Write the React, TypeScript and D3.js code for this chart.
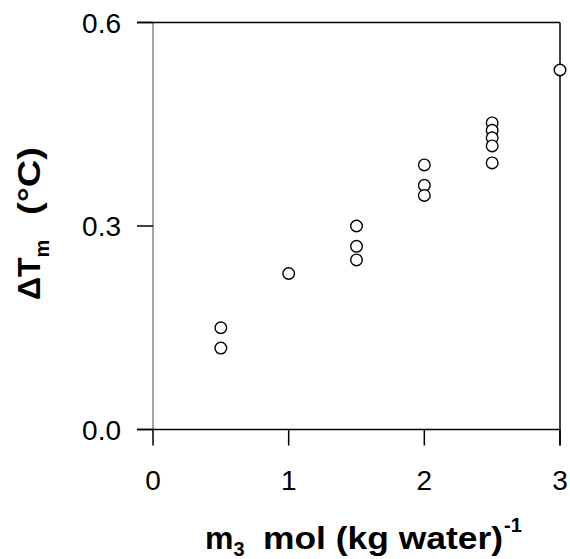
import React from "react";
import * as d3 from "d3";

const xTicks = [0, 1, 2, 3];
const yTicks = [0.0, 0.3, 0.6];
const yTickLabels = ["0.0", "0.3", "0.6"];
const xValues = [0.5, 0.5, 1.0, 1.5, 1.5, 1.5, 2.0, 2.0, 2.0, 2.5, 2.5, 2.5, 2.5, 2.5, 3.0];
const yValues = [0.15, 0.12, 0.23, 0.30, 0.27, 0.25, 0.39, 0.36, 0.345, 0.452, 0.441, 0.43, 0.418, 0.393, 0.53];

const W = 570;
const H = 559;
const left = 153;
const right = 560;
const top = 22.5;
const bottom = 429.5;

export default function App() {
  const x = d3.scaleLinear().domain([0, 3]).range([left, right]);
  const y = d3.scaleLinear().domain([0, 0.6]).range([bottom, top]);
  const font = "'Liberation Sans', Arial, sans-serif";
  const points = xValues.map((v, i) => ({ x: v, y: yValues[i] }));
  return (
    <svg
      width={W}
      height={H}
      style={{ position: "absolute", left: 0, top: 0, background: "#fff" }}
      fontFamily={font}
    >
      <rect x={0} y={0} width={W} height={H} fill="#fff" />
      {/* frame */}
      <line x1={left} y1={top} x2={left} y2={bottom} stroke="#666" strokeWidth={1.2} />
      <line x1={left - 16} y1={top} x2={right} y2={top} stroke="#000" strokeWidth={1.5} />
      <line x1={right} y1={top} x2={right} y2={bottom + 16} stroke="#000" strokeWidth={1.5} />
      <line x1={left - 16} y1={bottom} x2={right} y2={bottom} stroke="#000" strokeWidth={1.5} />
      {/* y ticks */}
      {yTicks.map((t, i) => (
        <g key={"y" + i}>
          <line x1={left - 16} x2={left} y1={y(t)} y2={y(t)} stroke="#000" strokeWidth={1.5} />
          <text x={121} y={y(t)} dy="0.36em" textAnchor="end" fontSize={28}>
            {yTickLabels[i]}
          </text>
        </g>
      ))}
      {/* x ticks */}
      {xTicks.map((t, i) => (
        <g key={"x" + i}>
          <line x1={x(t)} x2={x(t)} y1={bottom} y2={bottom + 16} stroke="#000" strokeWidth={1.5} />
          <text x={x(t)} y={490} textAnchor="middle" fontSize={28}>
            {String(t)}
          </text>
        </g>
      ))}
      {/* points */}
      {points.map((p, i) => (
        <circle key={"p" + i} cx={x(p.x)} cy={y(p.y)} r={5.8} fill="#fff" stroke="#000" strokeWidth={1.4} />
      ))}
      {/* x title */}
      <text x={205} y={549} fontSize={32} fontWeight="bold">
        m<tspan fontSize={20} dy={7}>3</tspan>
      </text>
      <text x={263} y={549} fontSize={32} fontWeight="bold" textLength={240} lengthAdjust="spacingAndGlyphs">
        mol (kg water)
      </text>
      <text x={504} y={532} fontSize={20} fontWeight="bold">-1</text>
      {/* y title */}
      <text transform="translate(40,300) rotate(-90)" fontSize={32} fontWeight="bold">
        ΔT<tspan fontSize={20} dy={9}>m</tspan>
      </text>
      <text transform="translate(40,215) rotate(-90)" fontSize={32} fontWeight="bold" textLength={68} lengthAdjust="spacingAndGlyphs">
        (°C)
      </text>
    </svg>
  );
}
